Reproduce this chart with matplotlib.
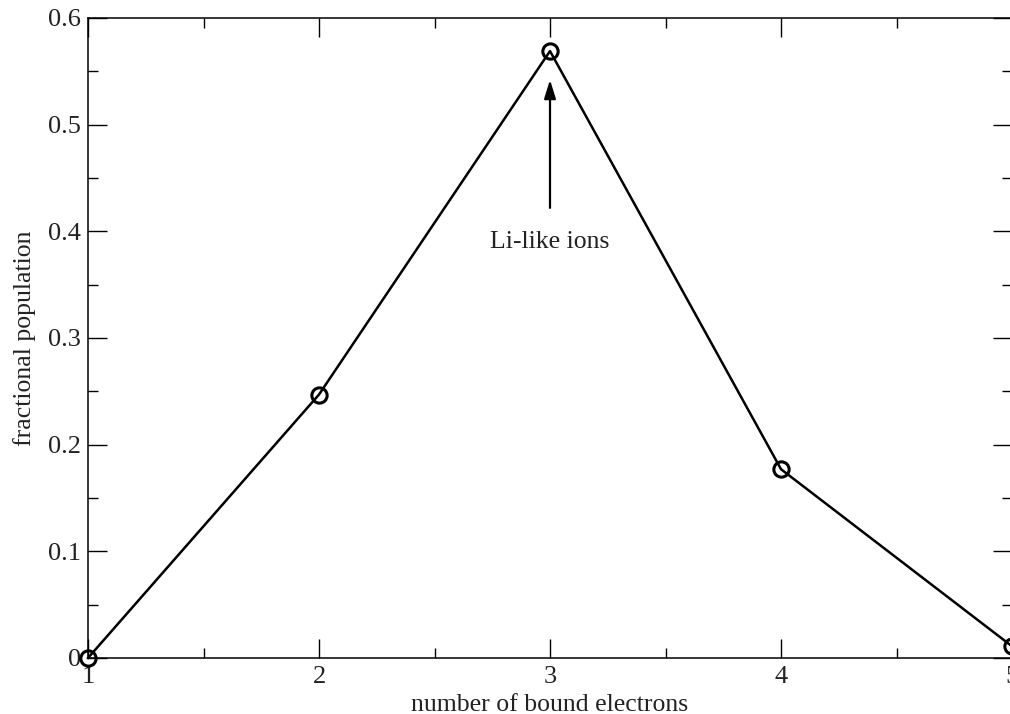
import matplotlib
matplotlib.use("Agg")
import matplotlib.pyplot as plt
from matplotlib.ticker import MultipleLocator

# fractional population of each charge state
n_bound = [1, 2, 3, 4, 5]
frac_pop = [0.0, 0.247, 0.569, 0.177, 0.011]

x_ticks = [1, 2, 3, 4, 5]
y_ticks = [0, 0.1, 0.2, 0.3, 0.4, 0.5, 0.6]
y_ticklabels = ["0", "0.1", "0.2", "0.3", "0.4", "0.5", "0.6"]

plt.rcParams["font.family"] = ["Liberation Serif", "DejaVu Serif"]

fig = plt.figure(figsize=(10.10, 7.14), dpi=100)
ax = fig.add_axes([88 / 1010, 56 / 714, 924 / 1010, 640 / 714])

ax.plot(n_bound, frac_pop, color="black", lw=1.8, marker="o", ms=11,
        mfc="none", mec="black", mew=2.2, clip_on=False, zorder=3)

ax.annotate("", xy=(3, 0.542), xytext=(3, 0.422),
            arrowprops=dict(arrowstyle="-|>,head_length=0.8,head_width=0.25",
                            color="black", lw=1.6,
                            mutation_scale=14, shrinkA=0, shrinkB=0))
ax.text(3, 0.39, "Li-like ions", ha="center", va="center", fontsize=18.5,
        color="#222222")

ax.set_xlim(1, 5)
ax.set_ylim(0, 0.6)
ax.set_xticks(x_ticks)
ax.set_yticks(y_ticks)
ax.set_yticklabels(y_ticklabels)
ax.xaxis.set_minor_locator(MultipleLocator(0.5))
ax.yaxis.set_minor_locator(MultipleLocator(0.05))

ax.tick_params(which="both", direction="in", top=True, right=True,
               labelsize=19, width=1.0, labelcolor="#222222")
ax.tick_params(axis="x", pad=6)
ax.tick_params(axis="y", pad=5)
ax.tick_params(which="major", length=13.5)
ax.tick_params(which="minor", length=7.2)
for sp in ax.spines.values():
    sp.set_linewidth(1.1)

ax.set_xlabel("number of bound electrons", fontsize=18.5, labelpad=4,
              color="#222222")
ax.set_ylabel("fractional population", fontsize=18.5, labelpad=9,
              color="#222222")

fig.savefig("out.png", dpi=100)
